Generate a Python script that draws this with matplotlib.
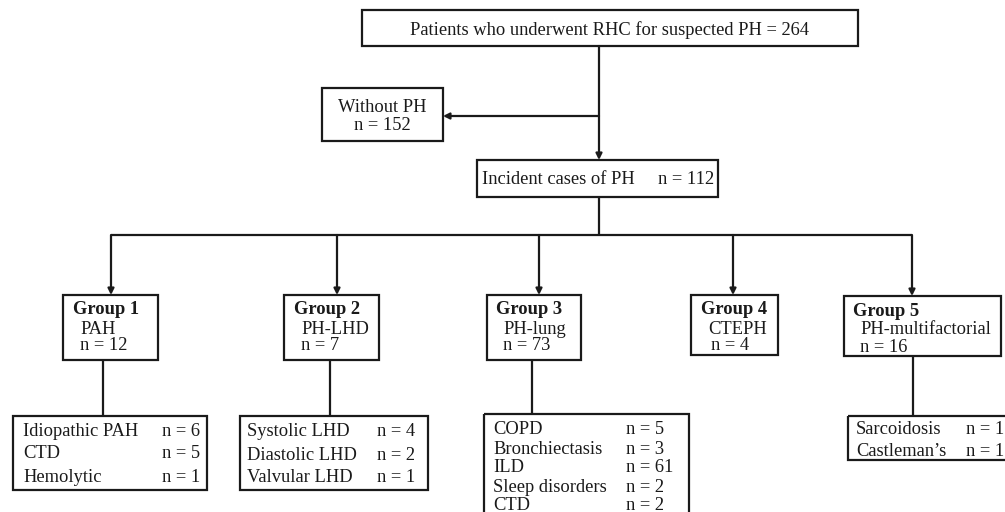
import matplotlib.pyplot as plt
from matplotlib.patches import Rectangle

# Flowchart content
TOP_LABEL = "Patients who underwent RHC for suspected PH = 264"
EXCLUDED_LABEL = "Without PH"
EXCLUDED_N = 152
INCIDENT_LABEL = "Incident cases of PH"
INCIDENT_N = 112

group_names = ["Group 1", "Group 2", "Group 3", "Group 4", "Group 5"]
group_types = ["PAH", "PH-LHD", "PH-lung", "CTEPH", "PH-multifactorial"]
group_n = [12, 7, 73, 4, 16]

sub_labels = [
    ["Idiopathic PAH", "CTD", "Hemolytic"],
    ["Systolic LHD", "Diastolic LHD", "Valvular LHD"],
    ["COPD", "Bronchiectasis", "ILD", "Sleep disorders", "CTD"],
    [],
    ["Sarcoidosis", "Castleman\u2019s"],
]
sub_n = [
    [6, 5, 1],
    [4, 2, 1],
    [5, 3, 61, 2, 2],
    [],
    [15, 1],
]

# Layout (pixel coordinates, y grows downward)
TOP_BOX = (362, 10, 858, 46)
EXCL_BOX = (322, 88, 443, 141)
INC_BOX = (477, 160, 718, 197)
TRUNK_X = 599
EXCL_Y = 116
BRANCH_Y = 235
group_x = [111, 337, 539, 733, 912]
group_boxes = [(63, 295, 158, 360), (284, 295, 379, 360), (487, 295, 581, 360),
               (691, 295, 778, 355), (844, 296, 1001, 356)]
group_text_x = [(73, 80), (294, 301), (496, 503), (701, 708), (853, 860)]
sub_line_x = [103, 330, 532, None, 913]
sub_boxes = [(13, 416, 207, 490), (240, 416, 428, 490), (484, 414, 689, 530),
             None, (848, 416, 1030, 460)]
sub_text_x = [(23, 162), (247, 377), (493, 626), None, (856, 966)]
sub_row_y = [[429, 452, 475], [429, 453, 476], [428, 447, 466, 485, 503],
             None, [428, 449]]

FS = 13.3
LW = 1.6
FONT = "Liberation Serif"
plt.rcParams['font.family'] = FONT

fig = plt.figure(figsize=(10.05, 5.12), dpi=100)
ax = fig.add_axes([0, 0, 1, 1])
ax.set_xlim(0, 1005)
ax.set_ylim(512, 0)
ax.axis('off')


def box(b, lw=LW):
    x0, y0, x1, y1 = b
    ax.add_patch(Rectangle((x0, y0), x1 - x0, y1 - y0, fill=False,
                           edgecolor='#1a1a1a', linewidth=lw, clip_on=False))


def line(xs, ys):
    ax.plot(xs, ys, color='#1a1a1a', linewidth=LW, solid_capstyle='butt')


def arrow(x0, y0, x1, y1):
    ax.annotate("", xy=(x1, y1), xytext=(x0, y0),
                arrowprops=dict(arrowstyle='-|>', color='#1a1a1a', lw=LW,
                                mutation_scale=9, shrinkA=0, shrinkB=0))


def txt(x, y, s, ha='left', bold=False):
    ax.text(x, y, s, ha=ha, va='center_baseline', fontsize=FS, color='#1a1a1a',
            fontweight='bold' if bold else 'normal')


# Top box and trunk
box(TOP_BOX)
txt((TOP_BOX[0] + TOP_BOX[2]) / 2, 28, TOP_LABEL, ha='center')
arrow(TRUNK_X, TOP_BOX[3], TRUNK_X, INC_BOX[1])
arrow(TRUNK_X, EXCL_Y, EXCL_BOX[2], EXCL_Y)

box(EXCL_BOX)
txt((EXCL_BOX[0] + EXCL_BOX[2]) / 2, 105, EXCLUDED_LABEL, ha='center')
txt((EXCL_BOX[0] + EXCL_BOX[2]) / 2, 123, f"n = {EXCLUDED_N}", ha='center')

box(INC_BOX)
txt(INC_BOX[0] + 5, 178, INCIDENT_LABEL)
txt(INC_BOX[2] - 4, 178, f"n = {INCIDENT_N}", ha='right')

# Branch to groups
line([TRUNK_X, TRUNK_X], [INC_BOX[3], BRANCH_Y])
line([group_x[0], group_x[-1]], [BRANCH_Y, BRANCH_Y])

for i, gx in enumerate(group_x):
    gb = group_boxes[i]
    arrow(gx, BRANCH_Y, gx, gb[1])
    box(gb)
    tx_bold, tx = group_text_x[i]
    txt(tx_bold, gb[1] + 13, group_names[i], bold=True)
    txt(tx, gb[1] + 32, group_types[i])
    txt(tx + (3 if i == 3 else 0), gb[1] + 49, f"n = {group_n[i]}")

    if not sub_labels[i]:
        continue
    sx = sub_line_x[i]
    sb = sub_boxes[i]
    line([sx, sx], [gb[3], sb[1]])
    box(sb)
    lx, nx = sub_text_x[i]
    for lab, n, ry in zip(sub_labels[i], sub_n[i], sub_row_y[i]):
        txt(lx, ry, lab)
        txt(nx, ry, f"n = {n}")

fig.savefig("out.png", dpi=100, facecolor='white')
